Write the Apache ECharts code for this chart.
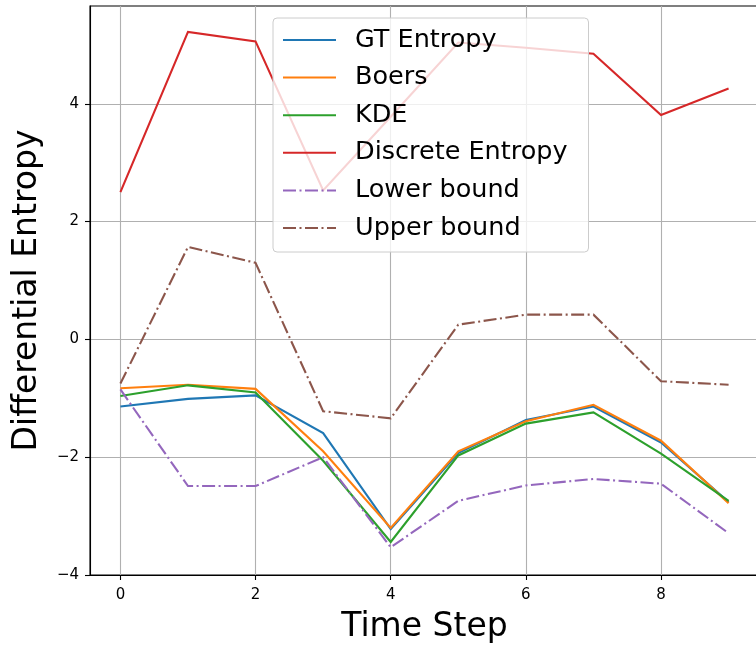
<!DOCTYPE html>
<html>
<head>
<meta charset="utf-8">
<script src="https://cdn.jsdelivr.net/npm/echarts@6/dist/echarts.min.js"></script>
<style>
  html, body { margin: 0; padding: 0; background: #fff; }
  #chart { width: 756px; height: 645px; }
</style>
</head>
<body>
<div id="chart"></div>
<script>
// Time steps and the entropy estimates at each step
const steps = [0, 1, 2, 3, 4, 5, 6, 7, 8, 9];
const gtEntropy = [-1.14, -1.01, -0.95, -1.59, -3.22, -1.93, -1.37, -1.14, -1.75, -2.76];
const boers = [-0.83, -0.77, -0.84, -1.90, -3.20, -1.90, -1.39, -1.11, -1.72, -2.78];
const kde = [-0.96, -0.78, -0.90, -2.06, -3.44, -1.97, -1.43, -1.24, -1.94, -2.74];
const discreteEntropy = [2.50, 5.22, 5.06, 2.53, 3.78, 5.04, 4.95, 4.85, 3.81, 4.26];
const lowerBound = [-0.85, -2.49, -2.49, -2.00, -3.53, -2.74, -2.48, -2.37, -2.45, -3.29];
const upperBound = [-0.75, 1.57, 1.30, -1.22, -1.34, 0.25, 0.42, 0.42, -0.71, -0.77];

// Tick positions
const xTicks = [0, 2, 4, 6, 8];
const yTicks = [-4, -2, 0, 2, 4];

const FONT = 'DejaVu Sans';
const dashDot = [13, 3.5, 2, 3.5];

function pairs(values) {
  return steps.map((s, i) => [s, values[i]]);
}

function lineSeries(name, values, color, dashed) {
  return {
    name: name,
    type: 'line',
    data: pairs(values),
    symbol: 'none',
    smooth: false,
    clip: true,
    lineStyle: { color: color, width: 2.1, type: dashed ? dashDot : 'solid', cap: 'butt', join: 'miter' },
    itemStyle: { color: color },
    emphasis: { disabled: true },
    animation: false
  };
}

const fmt = v => (v < 0 ? '\u2212' + Math.abs(v) : String(v));

const chart = echarts.init(document.getElementById('chart'), null, { renderer: 'canvas' });
chart.setOption({
  backgroundColor: '#ffffff',
  animation: false,
  textStyle: { fontFamily: FONT },
  grid: {
    left: 90, top: 6, width: 669, height: 569,
    outerBoundsMode: 'none',
    containLabel: false,
    show: true, borderColor: '#000000', borderWidth: 1.1, backgroundColor: 'transparent'
  },
  legend: {
    left: 273, top: 18,
    orient: 'vertical',
    padding: [7, 21, 9, 9],
    itemWidth: 53, itemHeight: 14, itemGap: 7.6,
    itemStyle: { opacity: 0 },
    backgroundColor: 'rgba(255,255,255,0.8)',
    borderColor: '#cccccc', borderWidth: 1, borderRadius: 4,
    textStyle: { fontFamily: FONT, fontSize: 25.5, color: '#000', lineHeight: 30, padding: [0, 0, 0, 14] },
    data: ['GT Entropy', 'Boers', 'KDE', 'Discrete Entropy', 'Lower bound', 'Upper bound']
  },
  xAxis: {
    type: 'value', min: -0.45, max: 9.45,
    name: 'Time Step', nameLocation: 'middle', nameGap: 36,
    nameTextStyle: { fontFamily: FONT, fontSize: 33, color: '#000' },
    axisLine: { show: true, onZero: false, lineStyle: { color: '#000', width: 1.1 } },
    axisTick: { show: true, length: 5, inside: false, customValues: xTicks, lineStyle: { color: '#000', width: 1.1 } },
    axisLabel: { customValues: xTicks, fontFamily: FONT, fontSize: 15, color: '#000', margin: 13, formatter: fmt },
    splitLine: { show: true, lineStyle: { color: '#b0b0b0', width: 1.1 } },
    interval: 2
  },
  yAxis: {
    type: 'value', min: -4, max: 5.66, interval: 2,
    name: 'Differential Entropy', nameLocation: 'middle', nameGap: 46,
    nameTextStyle: { fontFamily: FONT, fontSize: 33, color: '#000' },
    axisLine: { show: true, onZero: false, lineStyle: { color: '#000', width: 1.1 } },
    axisTick: { show: true, length: 5, inside: false, customValues: yTicks, lineStyle: { color: '#000', width: 1.1 } },
    axisLabel: { customValues: yTicks, fontFamily: FONT, fontSize: 15, color: '#000', margin: 11, formatter: fmt },
    splitLine: { show: true, lineStyle: { color: '#b0b0b0', width: 1.1 } }
  },
  series: [
    lineSeries('GT Entropy', gtEntropy, '#1f77b4', false),
    lineSeries('Boers', boers, '#ff7f0e', false),
    lineSeries('KDE', kde, '#2ca02c', false),
    lineSeries('Discrete Entropy', discreteEntropy, '#d62728', false),
    lineSeries('Lower bound', lowerBound, '#9467bd', true),
    lineSeries('Upper bound', upperBound, '#8c564b', true)
  ]
});
</script>
</body>
</html>
